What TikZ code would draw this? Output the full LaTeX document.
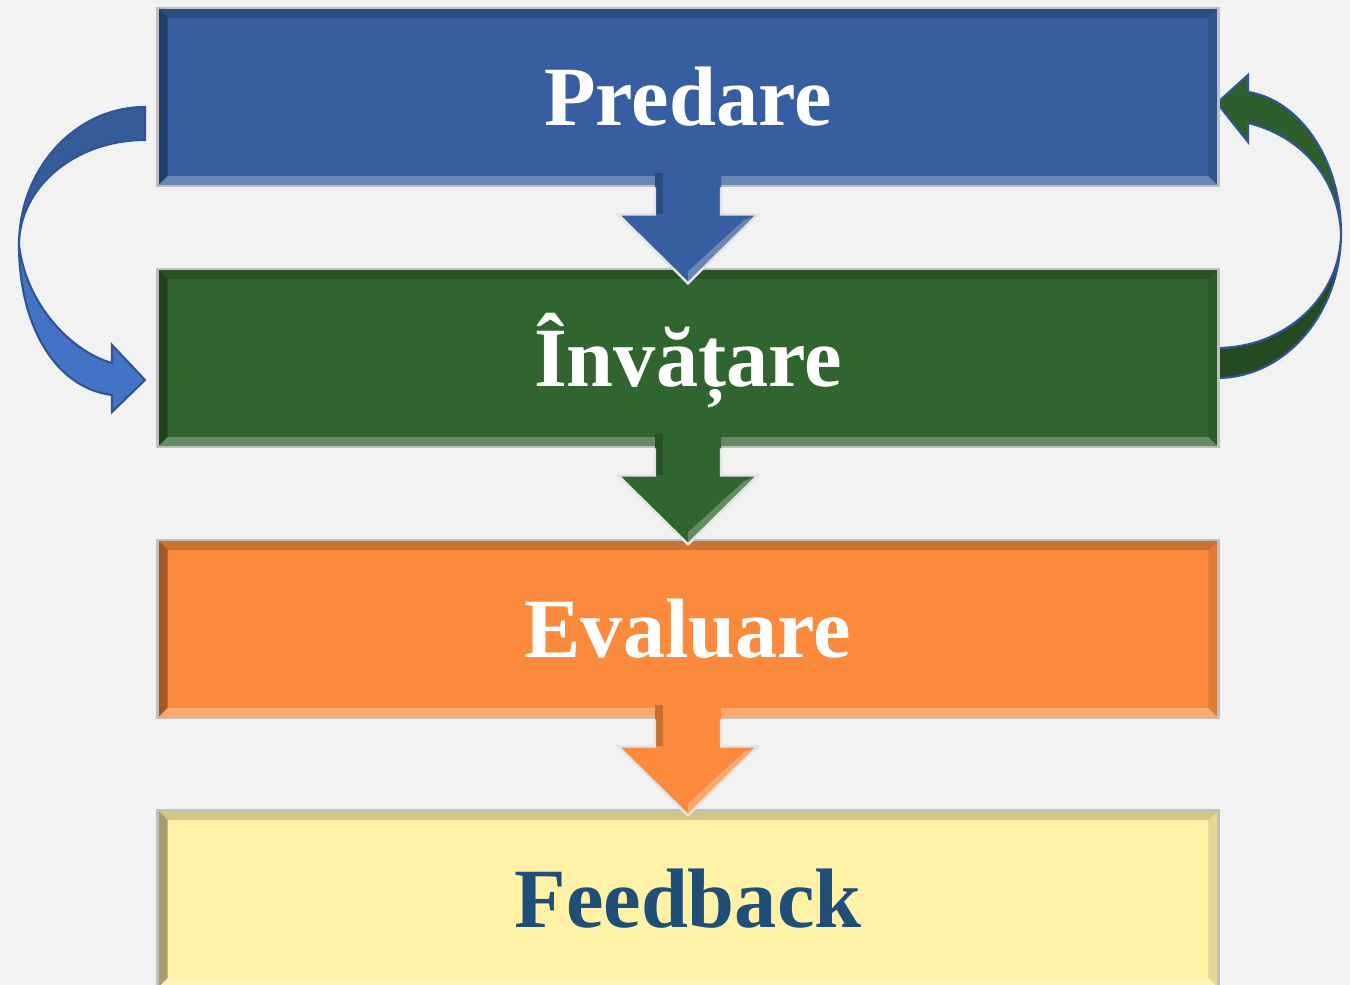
\documentclass[tikz,border=0pt]{standalone}
\usepackage{fontspec}
\setmainfont{Liberation Serif}

\definecolor{bggray}{HTML}{F2F2F2}
\definecolor{predareblue}{HTML}{375EA0}
\definecolor{invgreen}{HTML}{31652F}
\definecolor{evalorange}{HTML}{FB8A3C}
\definecolor{feedyellow}{HTML}{FFF2A6}
\definecolor{feedtext}{HTML}{1F4E79}
\definecolor{loopblue}{HTML}{4472C4}
\definecolor{loopbluedark}{HTML}{355C99}
\definecolor{loopgreen}{HTML}{2D5E2B}
\definecolor{loopgreendark}{HTML}{234A21}
\definecolor{loopline}{HTML}{2F5597}

\tikzset{
  stage/.style={rectangle, inner sep=0pt, minimum width=10.6cm, minimum height=1.78cm,
    draw=black!25, line width=0.7pt, text=white, text height=16pt, text depth=0pt,
    font=\bfseries\fontsize{24}{28}\selectfont,
    path picture={
      \coordinate (nw) at (path picture bounding box.north west);
      \coordinate (ne) at (path picture bounding box.north east);
      \coordinate (sw) at (path picture bounding box.south west);
      \coordinate (se) at (path picture bounding box.south east);
      % bevel
      \fill[black,opacity=.35] (nw) -- (sw) -- ([shift={(10,-10)}]sw) -- ([shift={(10,10)}]nw) -- cycle;
      \fill[black,opacity=.18] (nw) -- (ne) -- ([shift={(-10,10)}]ne) -- ([shift={(10,10)}]nw) -- cycle;
      \fill[white,opacity=.25] (sw) -- (se) -- ([shift={(-10,-10)}]se) -- ([shift={(10,-10)}]sw) -- cycle;
      \fill[black,opacity=.1] (ne) -- (se) -- ([shift={(-10,-10)}]se) -- ([shift={(-10,10)}]ne) -- cycle;
    }},
  loop/.style={draw=loopline, line width=0.6pt},
  downedge/.style={draw=white!80!gray, line width=0.7pt},
}

\begin{document}
\begin{tikzpicture}[x=0.01cm,y=-0.01cm]
\path[use as bounding box, fill=bggray] (0,0) rectangle (1350,985);

% left loop: Predare -> Invatare
\fill[loop, fill=loopbluedark] (145,107) arc[start angle=270, end angle=180, x radius=126, y radius=138]
  -- (19,245) arc[start angle=180, end angle=270, x radius=126, y radius=105] -- cycle;
\fill[loop, fill=loopblue] (19,245) .. controls (19,325) and (55,388) .. (112,395)
  -- (112,412) -- (145,380) -- (112,345) -- (112,363)
  .. controls (72,352) and (26,305) .. (19,245) -- cycle;

% right loop: Invatare -> Predare
\fill[loop, fill=loopgreendark] (1217,378) arc[start angle=90, end angle=0, x radius=124, y radius=145]
  -- (1341,233) arc[start angle=0, end angle=90, x radius=124, y radius=115] -- cycle;
\fill[loop, fill=loopgreen] (1341,233) .. controls (1341,160) and (1300,100) .. (1248,92)
  -- (1248,75) -- (1217,103) -- (1248,142) -- (1248,123)
  .. controls (1298,135) and (1338,175) .. (1341,233) -- cycle;

% stages
\node[stage, fill=predareblue] (predare) at (688,97) {Predare};
\node[stage, fill=invgreen] (invatare) at (688,358) {Învățare};
\node[stage, fill=evalorange] (evaluare) at (688,629) {Evaluare};
\node[stage, fill=feedyellow, text=feedtext] (feedback) at (688,899) {Feedback};

% block arrows between stages
\foreach \s/\c in {predare/predareblue, invatare/invgreen, evaluare/evalorange}{
  \fill[\c, shift={(\s.south)}] (-33,-14) -- (33,-14) -- (33,27) -- (70,27) -- (0,96) -- (-70,27) -- (-33,27) -- cycle;
  \fill[black, opacity=.2, shift={(\s.south)}] (-33,-14) -- (-33,27) -- (-25,27) -- (-25,-14) -- cycle;
  \fill[white, opacity=.25, shift={(\s.south)}] (70,27) -- (0,96) -- (0,84) -- (56,33) -- cycle;
  \draw[downedge, shift={(\s.south)}] (33,0) -- (33,27) -- (70,27) -- (0,96) -- (-70,27) -- (-33,27) -- (-33,0);
}
\end{tikzpicture}
\end{document}
